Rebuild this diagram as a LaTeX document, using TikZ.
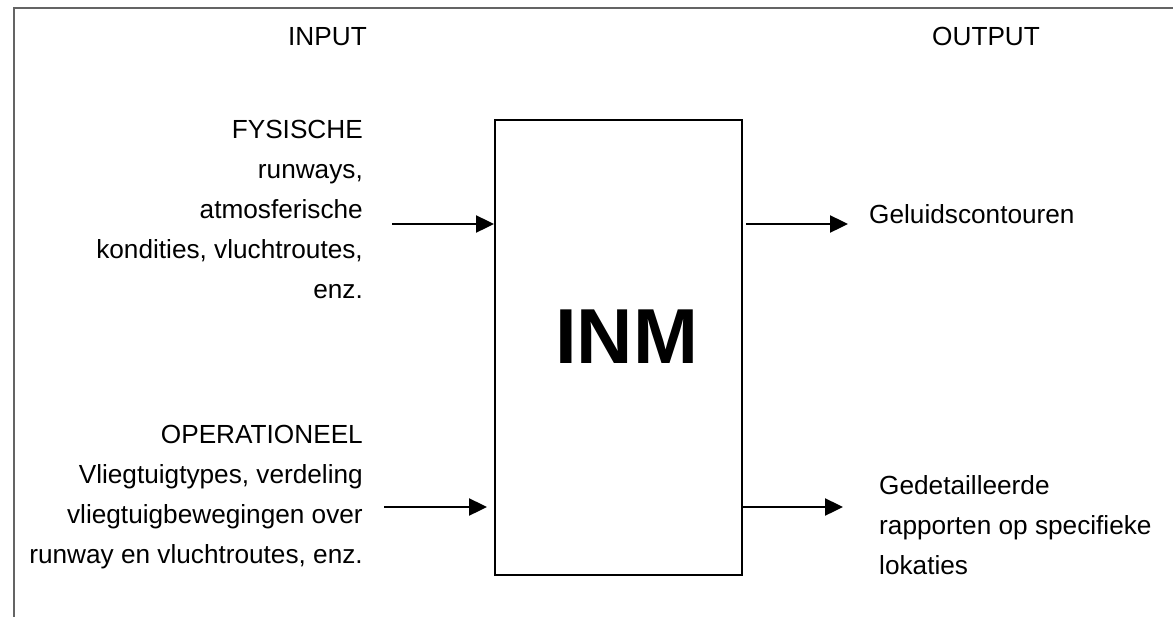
\documentclass[tikz,border=0pt]{standalone}
\usepackage{fontspec}
\setmainfont{Liberation Sans}
\usetikzlibrary{arrows.meta}
\tikzset{
  txt/.style={inner sep=0pt, font=\fontsize{26.2}{40}\selectfont},
  arr/.style={line width=2.4pt, -{Triangle[length=18pt,width=17pt]}},
  mainbox/.style={draw, line width=2pt, minimum width=247pt, minimum height=455pt, inner sep=0pt},
  frameline/.style={draw={rgb,255:red,100;green,100;blue,100}, line width=2.6pt}
}
\begin{document}
\begin{tikzpicture}[x=1pt,y=-1pt]
\useasboundingbox (0,0) rectangle (1173,616);
% outer frame (right and bottom edges lie outside the picture)
\draw[frameline] (14,640) -- (14,8) -- (1200,8);
% headings
\node[txt, anchor=base east] (input) at (367,45) {INPUT};
\node[txt, anchor=base west] (output) at (932,45) {OUTPUT};
% central box
\node[mainbox] (inm) at (618.5,347.5) {};
\node[inner sep=0pt, anchor=base, font=\fontsize{78}{80}\selectfont\bfseries] (inmlabel) at (626.5,363) {INM};
% input texts (base anchor = baseline of the last line)
\node[txt, anchor=base east, align=right] (fys) at (363,298)
  {FYSISCHE\\runways,\\atmosferische\\kondities, vluchtroutes,\\enz.};
\node[txt, anchor=base east, align=right] (ope) at (363,563)
  {OPERATIONEEL\\Vliegtuigtypes, verdeling\\vliegtuigbewegingen over\\runway en vluchtroutes, enz.};
% output texts
\node[txt, anchor=base west] (gel) at (869,223) {Geluidscontouren};
\node[txt, anchor=base west, align=left] (ged) at (879,574)
  {Gedetailleerde\\rapporten op specifieke\\lokaties};
% arrow ends
\coordinate (in1) at (392,224);
\coordinate (in2) at (384,507);
\coordinate (out1) at (848,224);
\coordinate (out2) at (843,507);
% connectors
\draw[arr] (in1) -- (in1 -| inm.west);
\draw[arr] (in2) -- ([xshift=-7pt]in2 -| inm.west);
\draw[arr] ([xshift=3pt]out1 -| inm.east) -- (out1);
\draw[arr] (out2 -| inm.east) -- (out2);
\end{tikzpicture}
\end{document}
